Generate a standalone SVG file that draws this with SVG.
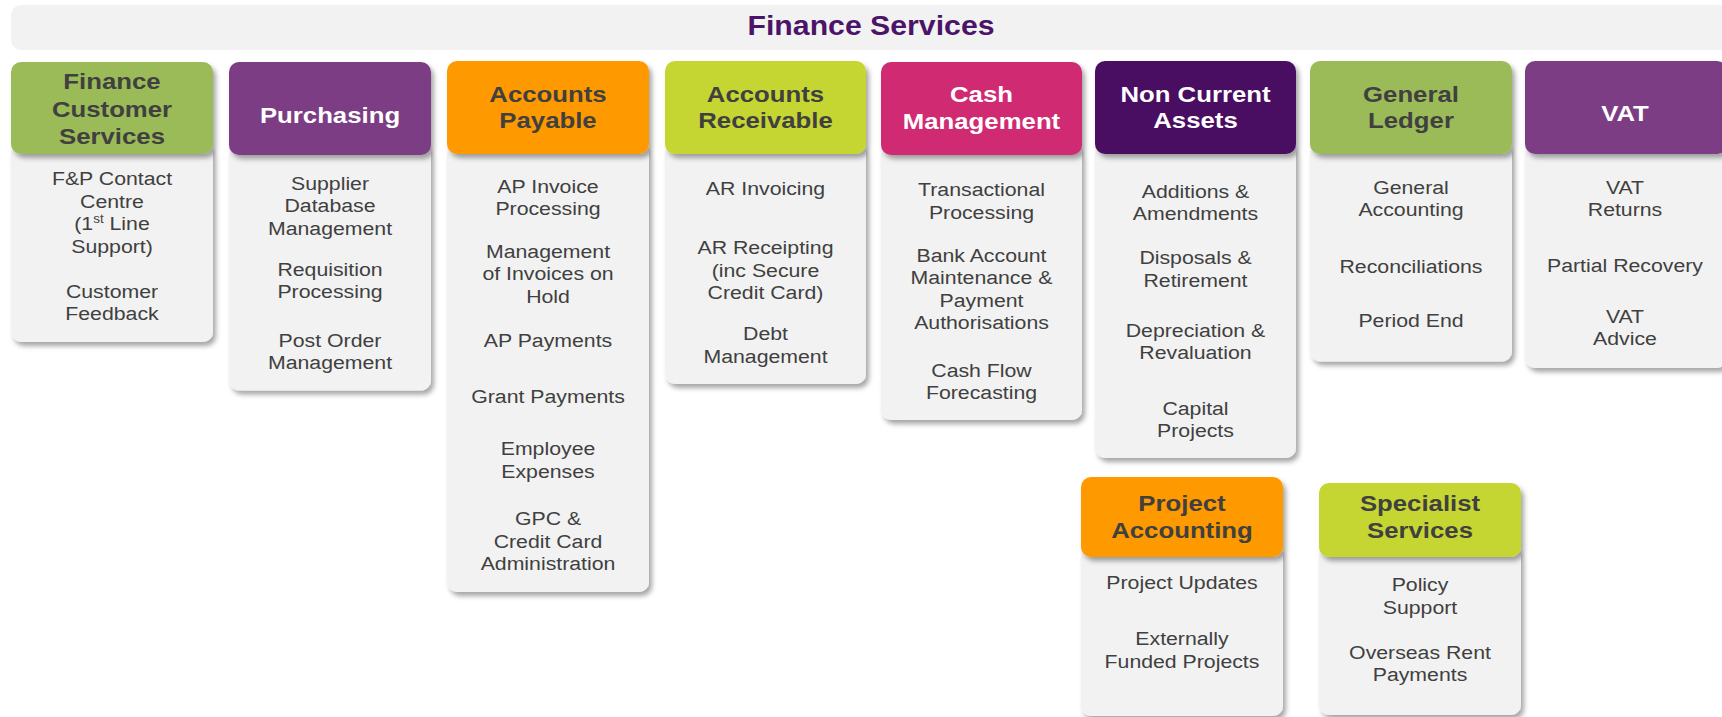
<svg xmlns="http://www.w3.org/2000/svg" width="1722" height="717" viewBox="0 0 1722 717">
<defs>
<filter id="sh" x="-10%" y="-10%" width="130%" height="130%">
<feDropShadow dx="3" dy="4" stdDeviation="2.5" flood-color="#000" flood-opacity="0.35"/>
</filter>
<style>
.body{fill:#F2F2F2;filter:url(#sh);}
.hd{filter:url(#sh);}
.green{fill:#9BBB59;}
.purple{fill:#7B3C84;}
.orange{fill:#FF9900;}
.lime{fill:#C5D630;}
.pink{fill:#D02C73;}
.dpurple{fill:#4A0E62;}
text{font-family:"Liberation Sans",Arial,sans-serif;text-anchor:middle;}
.ht{font-size:23px;font-weight:bold;}
.dk{fill:#404040;}
.wt{fill:#FFFFFF;}
.bt{font-size:19px;fill:#404040;}
.title{font-size:27px;font-weight:bold;fill:#4B1468;}
</style>
</defs>
<rect x="11" y="5" width="1730" height="45" rx="10" fill="#F2F2F2"/>
<g transform="translate(871,0) scale(1.12,1)"><text class="title" x="0" y="35">Finance Services</text></g>

<g id="finance-customer-services">
<rect class="body" x="11" y="144" width="202" height="198" rx="10"/>
<rect class="hd green" x="11" y="62" width="202" height="92" rx="10"/>
<g transform="translate(112,0) scale(1.12,1)">
<text class="ht dk" x="0" y="89.3">Finance</text>
<text class="ht dk" x="0" y="116.7">Customer</text>
<text class="ht dk" x="0" y="144">Services</text>
<text class="bt" x="0" y="185.5">F&amp;P Contact</text>
<text class="bt" x="0" y="208">Centre</text>
<text class="bt" x="0" y="230.5">(1<tspan font-size="12" dy="-7">st</tspan><tspan dy="7"> Line</tspan></text>
<text class="bt" x="0" y="253">Support)</text>
<text class="bt" x="0" y="298">Customer</text>
<text class="bt" x="0" y="320.5">Feedback</text>
</g>
</g>

<g id="purchasing">
<rect class="body" x="229" y="145" width="202" height="245.5" rx="10"/>
<rect class="hd purple" x="229" y="62" width="202" height="93" rx="10"/>
<g transform="translate(330,0) scale(1.12,1)">
<text class="ht wt" x="0" y="122.7">Purchasing</text>
<text class="bt" x="0" y="190">Supplier</text>
<text class="bt" x="0" y="212.5">Database</text>
<text class="bt" x="0" y="235">Management</text>
<text class="bt" x="0" y="276">Requisition</text>
<text class="bt" x="0" y="298.5">Processing</text>
<text class="bt" x="0" y="347">Post Order</text>
<text class="bt" x="0" y="369.5">Management</text>
</g>
</g>

<g id="accounts-payable">
<rect class="body" x="447" y="144" width="202" height="448" rx="10"/>
<rect class="hd orange" x="447" y="61" width="202" height="93" rx="10"/>
<g transform="translate(548,0) scale(1.12,1)">
<text class="ht dk" x="0" y="101.7">Accounts</text>
<text class="ht dk" x="0" y="128.3">Payable</text>
<text class="bt" x="0" y="192.7">AP Invoice</text>
<text class="bt" x="0" y="215.2">Processing</text>
<text class="bt" x="0" y="258">Management</text>
<text class="bt" x="0" y="280.5">of Invoices on</text>
<text class="bt" x="0" y="303">Hold</text>
<text class="bt" x="0" y="346.7">AP Payments</text>
<text class="bt" x="0" y="402.7">Grant Payments</text>
<text class="bt" x="0" y="455.3">Employee</text>
<text class="bt" x="0" y="477.8">Expenses</text>
<text class="bt" x="0" y="525.3">GPC &amp;</text>
<text class="bt" x="0" y="547.8">Credit Card</text>
<text class="bt" x="0" y="570.3">Administration</text>
</g>
</g>

<g id="accounts-receivable">
<rect class="body" x="665" y="144" width="201" height="240" rx="10"/>
<rect class="hd lime" x="665" y="61" width="201" height="93" rx="10"/>
<g transform="translate(765.5,0) scale(1.12,1)">
<text class="ht dk" x="0" y="101.7">Accounts</text>
<text class="ht dk" x="0" y="128.3">Receivable</text>
<text class="bt" x="0" y="195.3">AR Invoicing</text>
<text class="bt" x="0" y="254.3">AR Receipting</text>
<text class="bt" x="0" y="276.8">(inc Secure</text>
<text class="bt" x="0" y="299.3">Credit Card)</text>
<text class="bt" x="0" y="340.3">Debt</text>
<text class="bt" x="0" y="362.8">Management</text>
</g>
</g>

<g id="cash-management">
<rect class="body" x="881" y="145" width="201" height="275" rx="10"/>
<rect class="hd pink" x="881" y="62" width="201" height="93" rx="10"/>
<g transform="translate(981.5,0) scale(1.12,1)">
<text class="ht wt" x="0" y="102">Cash</text>
<text class="ht wt" x="0" y="128.7">Management</text>
<text class="bt" x="0" y="196.3">Transactional</text>
<text class="bt" x="0" y="218.8">Processing</text>
<text class="bt" x="0" y="262">Bank Account</text>
<text class="bt" x="0" y="284.5">Maintenance &amp;</text>
<text class="bt" x="0" y="307">Payment</text>
<text class="bt" x="0" y="329.5">Authorisations</text>
<text class="bt" x="0" y="377">Cash Flow</text>
<text class="bt" x="0" y="399.5">Forecasting</text>
</g>
</g>

<g id="non-current-assets">
<rect class="body" x="1095" y="144" width="201" height="314" rx="10"/>
<rect class="hd dpurple" x="1095" y="61" width="201" height="93" rx="10"/>
<g transform="translate(1195.5,0) scale(1.12,1)">
<text class="ht wt" x="0" y="101.7">Non Current</text>
<text class="ht wt" x="0" y="128.3">Assets</text>
<text class="bt" x="0" y="198">Additions &amp;</text>
<text class="bt" x="0" y="220.5">Amendments</text>
<text class="bt" x="0" y="264.3">Disposals &amp;</text>
<text class="bt" x="0" y="286.8">Retirement</text>
<text class="bt" x="0" y="337">Depreciation &amp;</text>
<text class="bt" x="0" y="359.5">Revaluation</text>
<text class="bt" x="0" y="415">Capital</text>
<text class="bt" x="0" y="437.5">Projects</text>
</g>
</g>

<g id="general-ledger">
<rect class="body" x="1310" y="144" width="202" height="217.5" rx="10"/>
<rect class="hd green" x="1310" y="61" width="202" height="93" rx="10"/>
<g transform="translate(1411,0) scale(1.12,1)">
<text class="ht dk" x="0" y="101.7">General</text>
<text class="ht dk" x="0" y="128.3">Ledger</text>
<text class="bt" x="0" y="194">General</text>
<text class="bt" x="0" y="216.5">Accounting</text>
<text class="bt" x="0" y="273">Reconciliations</text>
<text class="bt" x="0" y="327">Period End</text>
</g>
</g>

<g id="vat">
<rect class="body" x="1525" y="144" width="202" height="224" rx="10"/>
<rect class="hd purple" x="1525" y="61" width="202" height="93" rx="10"/>
<g transform="translate(1625,0) scale(1.12,1)">
<text class="ht wt" x="0" y="120.7">VAT</text>
<text class="bt" x="0" y="193.7">VAT</text>
<text class="bt" x="0" y="216.2">Returns</text>
<text class="bt" x="0" y="272">Partial Recovery</text>
<text class="bt" x="0" y="323">VAT</text>
<text class="bt" x="0" y="345.5">Advice</text>
</g>
</g>

<g id="project-accounting">
<rect class="body" x="1081" y="547" width="202" height="169" rx="10"/>
<rect class="hd orange" x="1081" y="477" width="202" height="80" rx="10"/>
<g transform="translate(1182,0) scale(1.12,1)">
<text class="ht dk" x="0" y="511">Project</text>
<text class="ht dk" x="0" y="537.7">Accounting</text>
<text class="bt" x="0" y="589.3">Project Updates</text>
<text class="bt" x="0" y="645.3">Externally</text>
<text class="bt" x="0" y="667.8">Funded Projects</text>
</g>
</g>

<g id="specialist-services">
<rect class="body" x="1319" y="547" width="202" height="168" rx="10"/>
<rect class="hd lime" x="1319" y="483" width="202" height="74" rx="10"/>
<g transform="translate(1420,0) scale(1.12,1)">
<text class="ht dk" x="0" y="511">Specialist</text>
<text class="ht dk" x="0" y="537.7">Services</text>
<text class="bt" x="0" y="591.3">Policy</text>
<text class="bt" x="0" y="613.8">Support</text>
<text class="bt" x="0" y="658.7">Overseas Rent</text>
<text class="bt" x="0" y="681.2">Payments</text>
</g>
</g>

<g id="connectors"></g>
</svg>
